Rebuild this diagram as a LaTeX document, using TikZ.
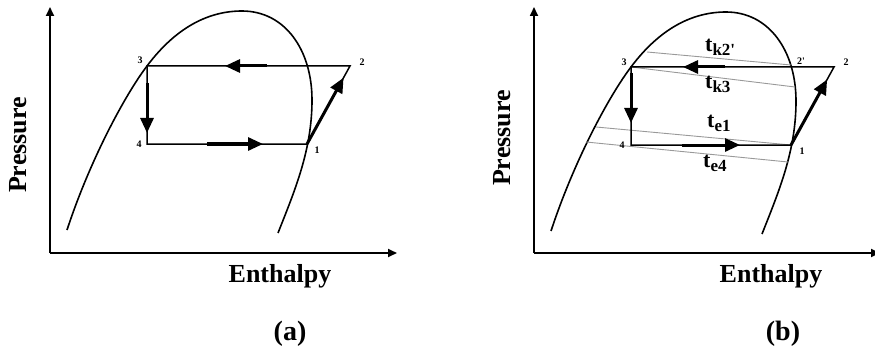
\documentclass[tikz,border=0pt]{standalone}
\usepackage{fontspec}
\setmainfont{Liberation Serif}
\usetikzlibrary{arrows.meta,calc}
\newcommand{\domepath}{(67,230) .. controls (90,160) and (125,95) .. (147,66) .. controls (177,26) and (210,11) .. (242,11) .. controls (285,11) and (312,50) .. (312,100) .. controls (312,150) and (295,190) .. (278,233)}
\newcommand{\tsb}[1]{t\raisebox{-4pt}{\fontsize{17}{17}\selectfont #1}}
\begin{document}
\begin{tikzpicture}[x=1pt,y=-1pt,
  curve/.style={line width=1.6pt},
  cyc/.style={line width=1.5pt},
  flow/.style={line width=3pt,-{Triangle[length=15pt,width=13pt]}},
  axis/.style={line width=1.7pt,-{Triangle[length=9pt,width=8pt]}},
  iso/.style={line width=0.9pt,draw=black!40},
  axlbl/.style={font=\bfseries\fontsize{26}{30}\selectfont,inner sep=0pt},
  caplbl/.style={font=\bfseries\fontsize{28}{32}\selectfont,inner sep=0pt,anchor=base},
  ptlbl/.style={font=\bfseries\fontsize{10}{11}\selectfont,inner sep=0pt},
  tlbl/.style={font=\bfseries\fontsize{22}{24}\selectfont,inner sep=0pt,anchor=base west}
]
\useasboundingbox (0,0) rectangle (875,350);

% ---------------- panel (a) ----------------
\coordinate (aO) at (50,253);
\coordinate (aY) at (50,7);
\coordinate (aX) at (397,253);
\draw[axis] (aO) -- (aY);
\draw[axis] (aO) -- (aX);
\draw[curve] \domepath;

\coordinate (a3) at (147,66);
\coordinate (a2) at (350,66);
\coordinate (a4) at (147,144);
\coordinate (a1) at (307,144);
\draw[cyc] (a3) -- (a2) -- (a1) -- (a4) -- cycle;

\coordinate (aTs) at (267,66);  \coordinate (aTe) at (225,66);
\coordinate (aVs) at (147,83);  \coordinate (aVe) at (147,133);
\coordinate (aBs) at (207,144); \coordinate (aBe) at (263,144);
\draw[flow] (aTs) -- (aTe);
\draw[flow] (aVs) -- (aVe);
\draw[flow] (aBs) -- (aBe);
\draw[flow] (a1) -- ($(a1)!0.85!(a2)$);

\node[ptlbl] (la3) at (140,60) {3};
\node[ptlbl] (la2) at (362,62) {2};
\node[ptlbl] (la4) at (139,144) {4};
\node[ptlbl] (la1) at (317,150) {1};

\node[axlbl,anchor=base] (aEnth) at (280,282) {Enthalpy};
\node[axlbl,anchor=base,rotate=90] (aPres) at (27,145) {Pressure};
\node[caplbl] (aCap) at (290,340) {(a)};

% ---------------- panel (b) ----------------
\coordinate (bO) at (534,253);
\coordinate (bY) at (534,7);
\coordinate (bX) at (880,253);
\draw[axis] (bO) -- (bY);
\draw[axis] (bO) -- (bX);
\begin{scope}[xshift=484pt,yshift=-1pt]
\draw[curve] \domepath;
\end{scope}

\coordinate (b3) at (631,67);
\coordinate (b2) at (834,67);
\coordinate (b2p) at (792,67);
\coordinate (b4) at (631,145);
\coordinate (b1) at (791,145);

% isotherms
\coordinate (k2s) at (647,52);  \coordinate (k2e) at (791,65);
\coordinate (k3e) at (795,87);
\coordinate (e1s) at (596,127);
\coordinate (e4s) at (586,142); \coordinate (e4e) at (788,162);
\draw[iso] (k2s) -- (k2e);
\draw[iso] (b3) -- (k3e);
\draw[iso] (e1s) -- (b1);
\draw[iso] (e4s) -- (e4e);

\draw[cyc] (b3) -- (b2) -- (b1) -- (b4) -- cycle;

\coordinate (bTs) at (725,67);  \coordinate (bTe) at (683,67);
\coordinate (bVs) at (631,73);  \coordinate (bVe) at (631,123);
\coordinate (bBs) at (682,145); \coordinate (bBe) at (740,145);
\draw[flow] (bTs) -- (bTe);
\draw[flow] (bVs) -- (bVe);
\draw[flow] (bBs) -- (bBe);
\draw[flow] (b1) -- ($(b1)!0.84!(b2)$);

\node[ptlbl] (lb3) at (624,62) {3};
\node[ptlbl] (lb2) at (846,62) {2};
\node[ptlbl] (lb2p) at (801,61) {2\textquotesingle};
\node[ptlbl] (lb4) at (622,145) {4};
\node[ptlbl] (lb1) at (802,151) {1};

\node[tlbl] (tk2) at (705,52) {\tsb{k2\textquotesingle}};
\node[tlbl] (tk3) at (705,89) {\tsb{k3}};
\node[tlbl] (te1) at (707,128) {\tsb{e1}};
\node[tlbl] (te4) at (703,167) {\tsb{e4}};

\node[axlbl,anchor=base] (bEnth) at (771,282) {Enthalpy};
\node[axlbl,anchor=base,rotate=90] (bPres) at (510,138) {Pressure};
\node[caplbl] (bCap) at (783,340) {(b)};
\end{tikzpicture}
\end{document}
